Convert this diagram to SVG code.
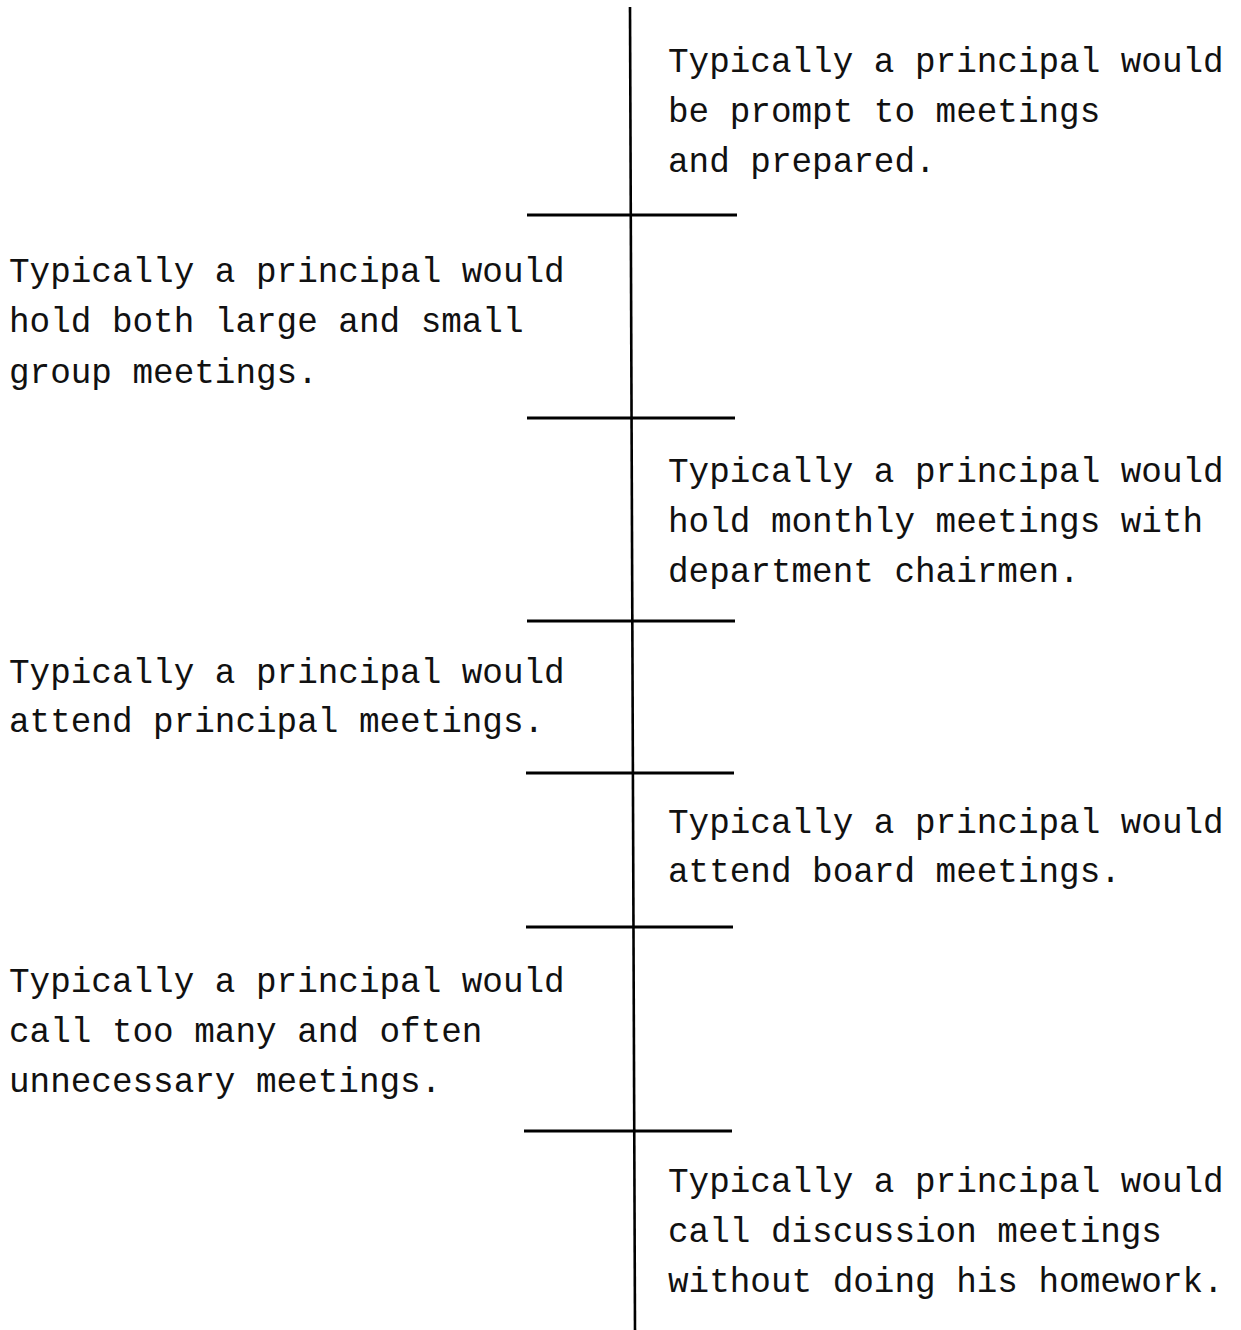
<svg xmlns="http://www.w3.org/2000/svg" width="1241" height="1330" viewBox="0 0 1241 1330">
  <style>
    .axis { stroke: #000; stroke-width: 2.6; fill: none; stroke-linecap: butt; }
    .tick { stroke: #000; stroke-width: 3; fill: none; }
    .label { font-family: "Liberation Mono", "Courier New", monospace; font-size: 34.3px; fill: #111; }
  </style>
  <rect width="1241" height="1330" fill="#fff"/>

  <!-- central scale line and its division marks -->
  <g id="connectors">
    <line class="axis" x1="630" y1="7" x2="635" y2="1330"/>
    <line class="tick" x1="527" y1="215" x2="737" y2="215"/>
    <line class="tick" x1="527" y1="418" x2="735" y2="418"/>
    <line class="tick" x1="527" y1="621" x2="735" y2="621"/>
    <line class="tick" x1="526" y1="773" x2="734" y2="773"/>
    <line class="tick" x1="526" y1="927" x2="733" y2="927"/>
    <line class="tick" x1="524" y1="1131" x2="732" y2="1131"/>
  </g>

  <g id="item-prompt">
    <text class="label" x="668" y="72">Typically a principal would</text>
    <text class="label" x="668" y="122">be prompt to meetings</text>
    <text class="label" x="668" y="172">and prepared.</text>
  </g>

  <g id="item-group-meetings">
    <text class="label" x="9" y="282">Typically a principal would</text>
    <text class="label" x="9" y="332">hold both large and small</text>
    <text class="label" x="9" y="383">group meetings.</text>
  </g>

  <g id="item-chairmen">
    <text class="label" x="668" y="482">Typically a principal would</text>
    <text class="label" x="668" y="532">hold monthly meetings with</text>
    <text class="label" x="668" y="582">department chairmen.</text>
  </g>

  <g id="item-principal-meetings">
    <text class="label" x="9" y="683">Typically a principal would</text>
    <text class="label" x="9" y="732">attend principal meetings.</text>
  </g>

  <g id="item-board-meetings">
    <text class="label" x="668" y="833">Typically a principal would</text>
    <text class="label" x="668" y="882">attend board meetings.</text>
  </g>

  <g id="item-too-many">
    <text class="label" x="9" y="992">Typically a principal would</text>
    <text class="label" x="9" y="1042">call too many and often</text>
    <text class="label" x="9" y="1092">unnecessary meetings.</text>
  </g>

  <g id="item-homework">
    <text class="label" x="668" y="1192">Typically a principal would</text>
    <text class="label" x="668" y="1242">call discussion meetings</text>
    <text class="label" x="668" y="1292">without doing his homework.</text>
  </g>
</svg>
